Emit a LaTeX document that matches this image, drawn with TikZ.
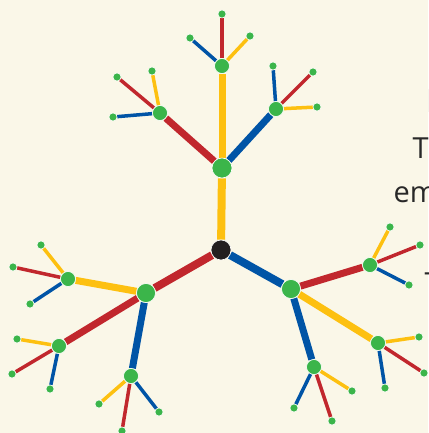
\documentclass[tikz,border=0pt]{standalone}
\usepackage{fontspec}
\newfontfamily\bodyfont{Open Sans}
\usepackage{tikz}
\usetikzlibrary{backgrounds}
\usepackage{xcolor}
\definecolor{trbg}{RGB}{250,247,232}
\definecolor{tryellow}{RGB}{253,192,16}
\definecolor{trred}{RGB}{193,39,45}
\definecolor{trblue}{RGB}{0,84,166}
\definecolor{trgreen}{RGB}{59,181,74}
\definecolor{trdark}{RGB}{35,31,32}
\definecolor{trtext}{RGB}{40,40,40}
\definecolor{trfaint}{RGB}{226,224,214}
\tikzstyle{hub} = [circle, inner sep=0pt, minimum size=19pt, fill=trgreen, draw=white, line width=0.6pt]
\tikzstyle{knot} = [circle, inner sep=0pt, minimum size=15pt, fill=trgreen, draw=white, line width=0.6pt]
\tikzstyle{leaf} = [circle, inner sep=0pt, minimum size=8pt, fill=trgreen, draw=white, line width=0.5pt]
\tikzstyle{trunk} = [line width=8pt]
\tikzstyle{limb} = [line width=7pt]
\tikzstyle{twig} = [line width=3.5pt]
\tikzstyle{body} = [inner sep=0pt, anchor=base west, font=\bodyfont\fontsize{29}{44}\selectfont, text=trtext]

\begin{document}
\begin{tikzpicture}[x=1pt, y=-1pt]
\useasboundingbox (0,0) rectangle (428,433);
\clip (0,0) rectangle (428,433);
\begin{scope}[on background layer]
\fill[trbg] (0,0) rectangle (428,433);
\end{scope}

% Root and first level
\node[hub, fill=trdark, minimum size=20pt] (root) at (221,250) {};
\node[hub, minimum size=20pt] (a) at (222,168) {};
\node[hub] (b) at (146,293) {};
\node[hub] (c) at (291,289) {};

% Second level
\node[knot] (a1) at (222,66) {};
\node[knot] (a2) at (160,113) {};
\node[knot] (a3) at (276,109) {};
\node[knot] (b1) at (68,279) {};
\node[knot] (b2) at (59,346) {};
\node[knot] (b3) at (131,376) {};
\node[knot] (c1) at (370,265) {};
\node[knot] (c2) at (378,343) {};
\node[knot] (c3) at (314,367) {};

% Leaves
\node[leaf] (a1y) at (250,36) {};
\node[leaf] (a1r) at (222,14) {};
\node[leaf] (a1b) at (190,38) {};
\node[leaf] (a2y) at (152,71) {};
\node[leaf] (a2r) at (117,77) {};
\node[leaf] (a2b) at (113,117) {};
\node[leaf] (a3y) at (317,107) {};
\node[leaf] (a3r) at (313,72) {};
\node[leaf] (a3b) at (273,66) {};
\node[leaf] (b1y) at (41,245) {};
\node[leaf] (b1r) at (13,267) {};
\node[leaf] (b1b) at (30,304) {};
\node[leaf] (b2y) at (17,339) {};
\node[leaf] (b2r) at (12,374) {};
\node[leaf] (b2b) at (50,389) {};
\node[leaf] (b3y) at (99,404) {};
\node[leaf] (b3r) at (122,431) {};
\node[leaf] (b3b) at (159,412) {};
\node[leaf] (c1y) at (390,227) {};
\node[leaf] (c1r) at (420,245) {};
\node[leaf] (c1b) at (409,285) {};
\node[leaf] (c2y) at (419,337) {};
\node[leaf] (c2r) at (424,373) {};
\node[leaf] (c2b) at (385,388) {};
\node[leaf] (c3y) at (352,391) {};
\node[leaf] (c3r) at (332,421) {};
\node[leaf] (c3b) at (294,408) {};

% Text cut off at the right edge
\node[body, text=trfaint, font=\bodyfont\fontsize{32}{40}\selectfont] (head) at (425.5,113) {I};
\node[body] (line1) at (412.5,158) {T};
\node[body] (line2) at (393.5,202) {em};
\node[body] (line3) at (424.5,293) {T};

% Branches
\begin{scope}[on background layer]
\draw[trunk, tryellow] (root) -- (a);
\draw[trunk, trred] (root) -- (b);
\draw[trunk, trblue] (root) -- (c);
\draw[limb, tryellow] (a) -- (a1);
\draw[limb, trred] (a) -- (a2);
\draw[limb, trblue] (a) -- (a3);
\draw[limb, tryellow] (b) -- (b1);
\draw[limb, trred] (b) -- (b2);
\draw[limb, trblue] (b) -- (b3);
\draw[limb, trred] (c) -- (c1);
\draw[limb, tryellow] (c) -- (c2);
\draw[limb, trblue] (c) -- (c3);
\draw[twig, tryellow] (a1) -- (a1y);
\draw[twig, trred] (a1) -- (a1r);
\draw[twig, trblue] (a1) -- (a1b);
\draw[twig, tryellow] (a2) -- (a2y);
\draw[twig, trred] (a2) -- (a2r);
\draw[twig, trblue] (a2) -- (a2b);
\draw[twig, tryellow] (a3) -- (a3y);
\draw[twig, trred] (a3) -- (a3r);
\draw[twig, trblue] (a3) -- (a3b);
\draw[twig, tryellow] (b1) -- (b1y);
\draw[twig, trred] (b1) -- (b1r);
\draw[twig, trblue] (b1) -- (b1b);
\draw[twig, tryellow] (b2) -- (b2y);
\draw[twig, trred] (b2) -- (b2r);
\draw[twig, trblue] (b2) -- (b2b);
\draw[twig, tryellow] (b3) -- (b3y);
\draw[twig, trred] (b3) -- (b3r);
\draw[twig, trblue] (b3) -- (b3b);
\draw[twig, tryellow] (c1) -- (c1y);
\draw[twig, trred] (c1) -- (c1r);
\draw[twig, trblue] (c1) -- (c1b);
\draw[twig, tryellow] (c2) -- (c2y);
\draw[twig, trred] (c2) -- (c2r);
\draw[twig, trblue] (c2) -- (c2b);
\draw[twig, tryellow] (c3) -- (c3y);
\draw[twig, trred] (c3) -- (c3r);
\draw[twig, trblue] (c3) -- (c3b);
\end{scope}
\end{tikzpicture}
\end{document}
